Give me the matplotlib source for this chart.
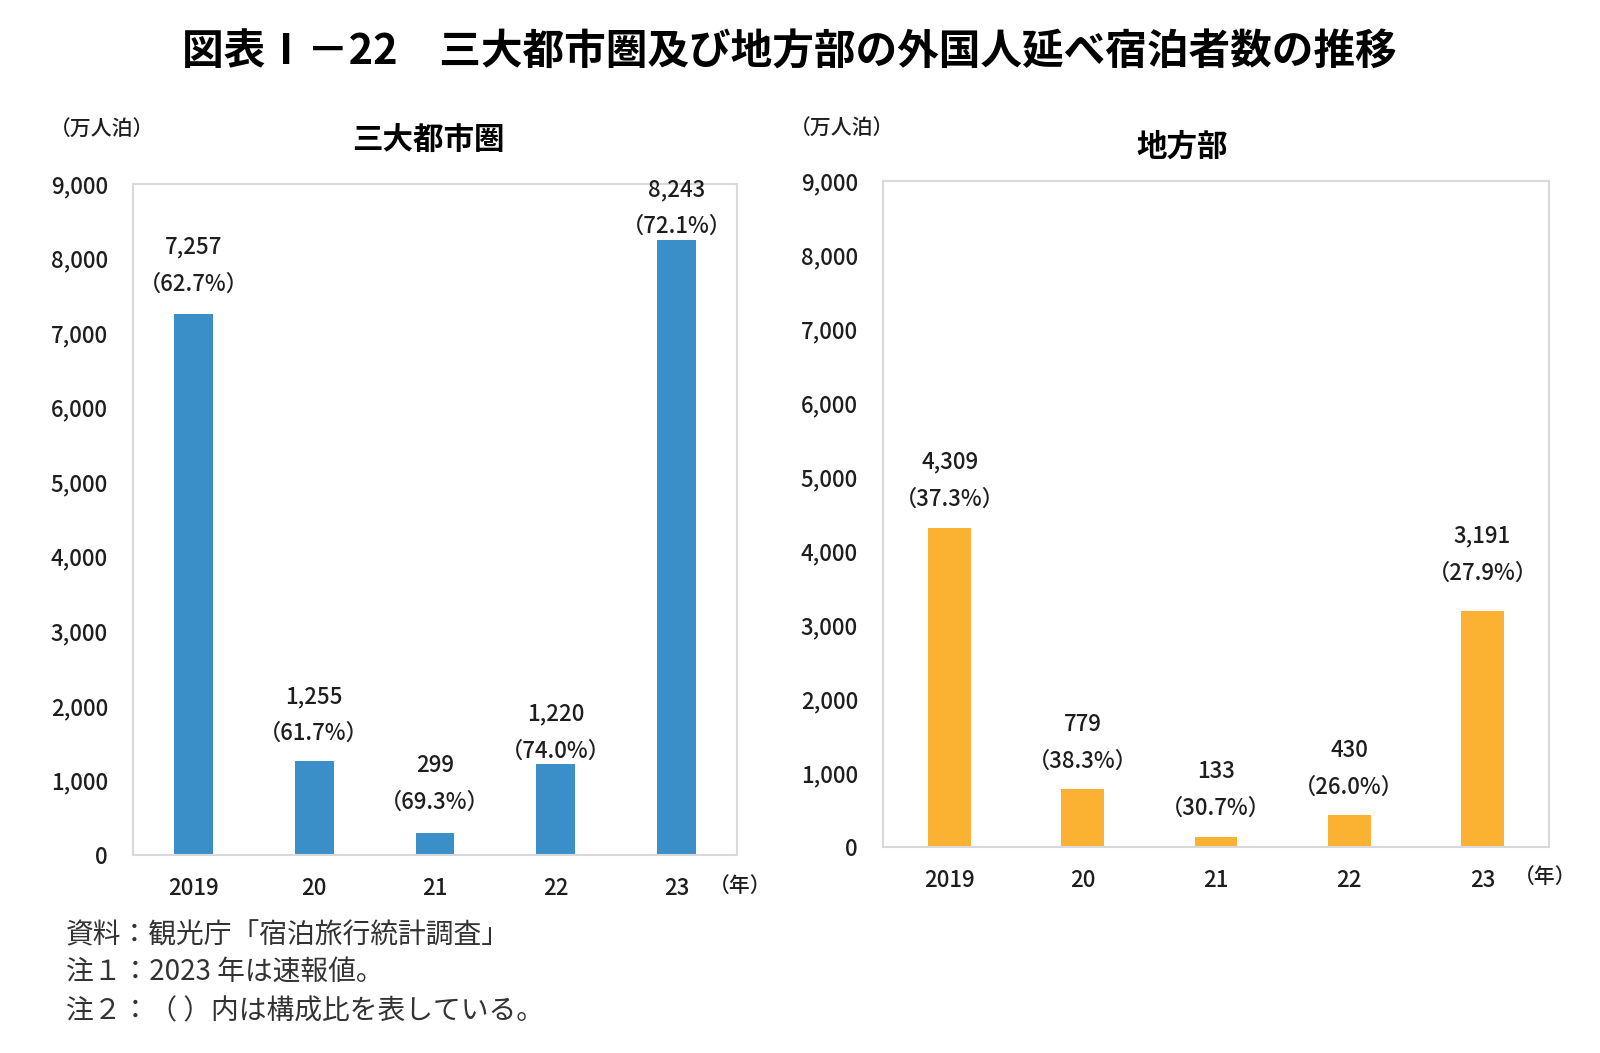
import matplotlib
matplotlib.use("Agg")
import matplotlib.pyplot as plt

plt.rcParams["font.family"] = ["Noto Sans CJK JP", "DejaVu Sans"]

# ---------------------------------------------------------------------------
# Data
# ---------------------------------------------------------------------------
years = ["2019", "20", "21", "22", "23"]
metro_values = [7257, 1255, 299, 1220, 8243]
metro_share = [62.7, 61.7, 69.3, 74.0, 72.1]
local_values = [4309, 779, 133, 430, 3191]
local_share = [37.3, 38.3, 30.7, 26.0, 27.9]
y_ticks = [0, 1000, 2000, 3000, 4000, 5000, 6000, 7000, 8000, 9000]

# label lift above each bar (pixels) - a few were nudged in the original
metro_lift = [30, 28, 30, 13, 14]
local_lift = [29, 28, 29, 28, 38]

BLUE = "#3A8FC9"
ORANGE = "#FBB233"
GRID = "#D9D9D9"
INK = "#1E1E1E"

W, H = 1600, 1053
fig = plt.figure(figsize=(W / 100, H / 100), dpi=100)


def px_axes(x0, y0, x1, y1):
    return fig.add_axes([x0 / W, 1 - y1 / H, (x1 - x0) / W, (y1 - y0) / H])


def draw_panel(ax, values, shares, lifts, color, title, title_xy, unit_xy, year_xy):
    xs = range(len(years))
    ax.bar(xs, values, width=0.32, color=color, zorder=2)
    ax.set_xlim(-0.5, len(years) - 0.5)
    ax.set_ylim(0, 9000)
    ax.set_yticks(y_ticks)
    ax.set_yticklabels([f"{v:,}" for v in y_ticks])
    ax.set_xticks(list(xs))
    ax.set_xticklabels(years)
    ax.tick_params(length=0, labelsize=16, colors=INK)
    ax.tick_params(axis="y", pad=18)
    ax.tick_params(axis="x", pad=16)
    for lab in ax.get_xticklabels() + ax.get_yticklabels():
        lab.set_fontweight("medium")
    for s in ax.spines.values():
        s.set_color(GRID)
        s.set_linewidth(1.5)
    for x, v, p, lift in zip(xs, values, shares, lifts):
        ax.annotate(f"（{p:.1f}%）", (x, v), xytext=(0, lift), textcoords="offset pixels",
                    ha="center", va="center", fontsize=16, color=INK, fontweight="medium")
        ax.annotate(f"{v:,}", (x, v), xytext=(0, lift + 37), textcoords="offset pixels",
                    ha="center", va="center", fontsize=16, color=INK, fontweight="medium")
    fig.text(title_xy[0] / W, 1 - title_xy[1] / H, title, ha="center", va="center",
             fontsize=22, fontweight="bold")
    fig.text(unit_xy[0] / W, 1 - unit_xy[1] / H, "（万人泊）", ha="center", va="center",
             fontsize=15, color=INK, fontweight="medium")
    fig.text(year_xy[0] / W, 1 - year_xy[1] / H, "（年）", ha="center", va="center",
             fontsize=15, color=INK, fontweight="medium")


ax1 = px_axes(133, 184, 737, 855)
draw_panel(ax1, metro_values, metro_share, metro_lift, BLUE, "三大都市圏",
           (428, 140), (102, 130), (740, 886))

ax2 = px_axes(883, 181, 1549, 847)
draw_panel(ax2, local_values, local_share, local_lift, ORANGE, "地方部",
           (1182, 147), (842, 129), (1545, 877))

fig.text(789 / W, 1 - 53 / H, "図表Ⅰ－22　三大都市圏及び地方部の外国人延べ宿泊者数の推移",
         ha="center", va="center", fontsize=30, fontweight="bold")

notes = ["資料：観光庁「宿泊旅行統計調査」",
         "注１：2023 年は速報値。",
         "注２：（ ）内は構成比を表している。"]
for i, line in enumerate(notes):
    fig.text(66 / W, 1 - (935 + 38 * i) / H, line, ha="left", va="center",
             fontsize=20, color="#333333")

fig.savefig("out.png", dpi=100)
